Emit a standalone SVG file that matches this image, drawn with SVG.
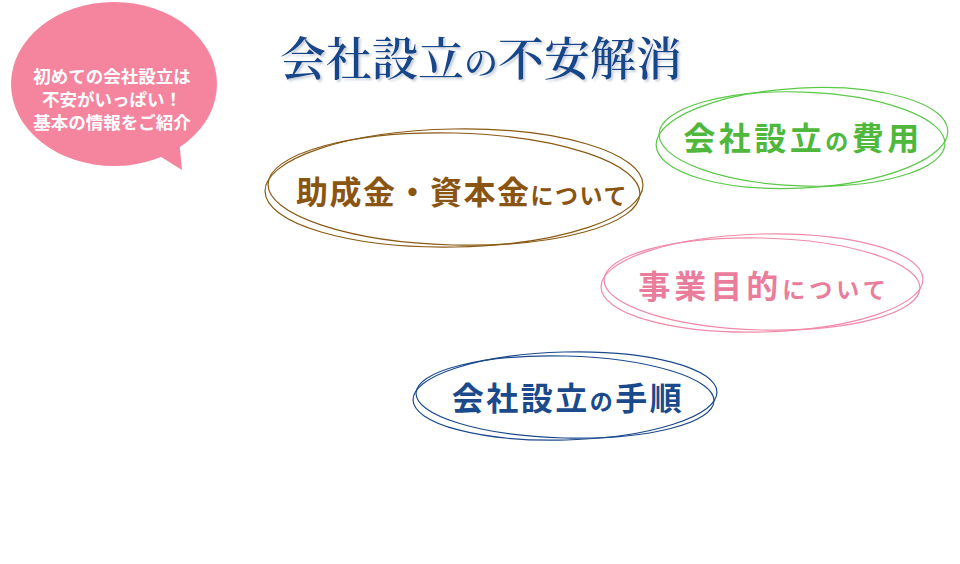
<svg xmlns="http://www.w3.org/2000/svg" width="960" height="564" viewBox="0 0 960 564">
<defs><style>
text{font-family:"Noto Sans CJK JP","Noto Sans",sans-serif;font-weight:700;text-anchor:middle}
.e{fill:none;stroke-width:1.2}
.sm{font-size:23px}
.n{font-size:32px}
</style>
<filter id="sh"><feDropShadow dx="2" dy="2" stdDeviation="1" flood-color="#c8d0dc"/></filter>
</defs>
<rect width="960" height="564" fill="#fff"/>
<g id="bubble" fill="#f5849f">
<ellipse cx="114" cy="84" rx="103" ry="82"/>
<path d="M150,150 L182,170 L178,128 Z"/>
<text x="112" y="83" font-size="17.5" fill="#fff">初めての会社設立は</text>
<text x="112" y="106" font-size="17.5" fill="#fff">不安がいっぱい！</text>
<text x="112" y="129" font-size="17.5" fill="#fff">基本の情報をご紹介</text>
</g>
<g id="title"><text x="481" y="75" font-size="46" fill="#16468a" filter="url(#sh)" style="font-family:'Noto Serif CJK JP','Noto Sans CJK JP',serif;font-weight:600">会社設立<tspan font-size="34">の</tspan>不安解消</text></g>
<g id="n1">
<ellipse class="e" cx="454" cy="188" rx="189" ry="59" stroke="#8a5a14" transform="rotate(-1 454 188)"/>
<ellipse class="e" cx="454" cy="189" rx="186" ry="56" stroke="#8a5a14" transform="rotate(1.5 454 189)"/>
<text class="n" x="462" y="204" letter-spacing="1.5" fill="#8a5412">助成金・資本金<tspan class="sm">について</tspan></text>
</g>
<g id="n2">
<ellipse class="e" cx="802" cy="138" rx="146" ry="50" stroke="#5cc84a" transform="rotate(-3 802 138)"/>
<ellipse class="e" cx="802" cy="139" rx="143" ry="47" stroke="#5cc84a" transform="rotate(2 802 139)"/>
<text class="n" x="803" y="150" letter-spacing="3.5" fill="#4fb83c">会社設立<tspan class="sm">の</tspan>費用</text>
</g>
<g id="n3">
<ellipse class="e" cx="762" cy="283" rx="161" ry="49" stroke="#f08aa8" transform="rotate(-1.5 762 283)"/>
<ellipse class="e" cx="762" cy="284" rx="158" ry="46" stroke="#f08aa8" transform="rotate(1.5 762 284)"/>
<text class="n" x="764" y="298" letter-spacing="4" fill="#ea7d9c">事業目的<tspan class="sm">について</tspan></text>
</g>
<g id="n4">
<ellipse class="e" cx="565" cy="396" rx="152" ry="44" stroke="#1b4a8c" transform="rotate(-1.5 565 396)"/>
<ellipse class="e" cx="565" cy="397" rx="149" ry="41" stroke="#1b4a8c" transform="rotate(1.5 565 397)"/>
<text class="n" x="568" y="410" letter-spacing="2.5" fill="#1b4a8c">会社設立<tspan class="sm">の</tspan>手順</text>
</g>
<g id="connectors"/>
</svg>
